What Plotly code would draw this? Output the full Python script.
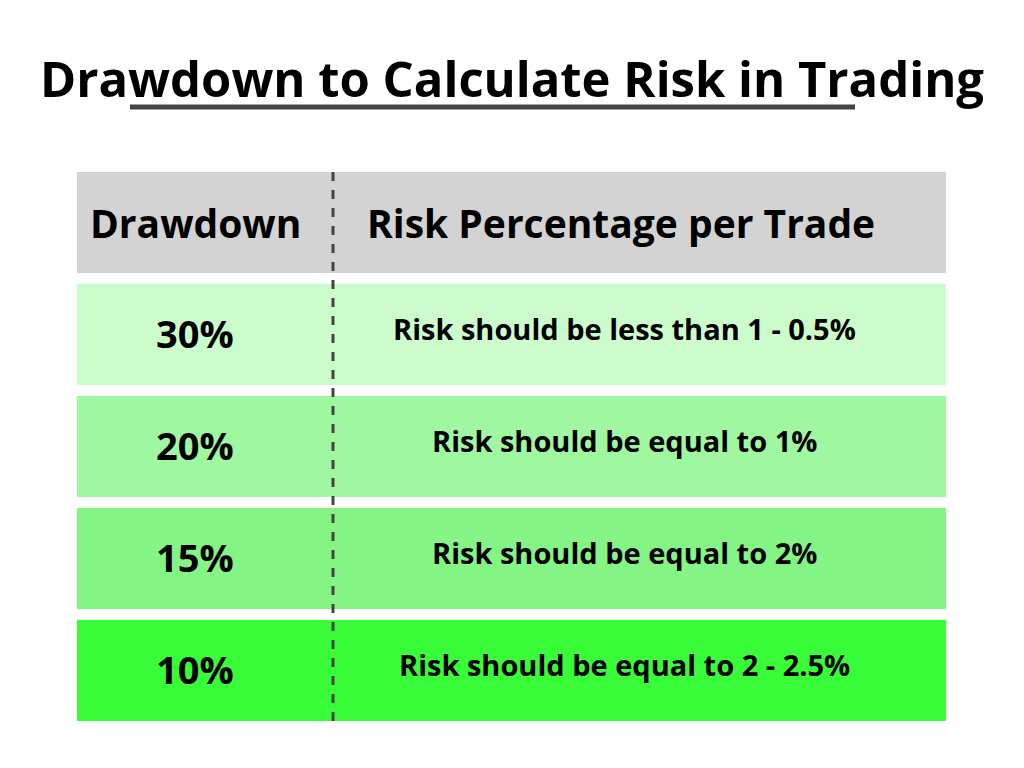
import plotly.graph_objects as go

title = 'Drawdown to Calculate Risk in Trading'
headers = ['Drawdown', 'Risk Percentage per Trade']
drawdowns = ['30%', '20%', '15%', '10%']
risks = ['Risk should be less than 1 - 0.5%',
         'Risk should be equal to 1%',
         'Risk should be equal to 2%',
         'Risk should be equal to 2 - 2.5%']

row_colors = ['#ccfccc', '#9ff79f', '#84f584', '#39fc39']
header_color = '#d3d3d3'
font = 'Open Sans'

fig = go.Figure()
# page body has an 8px margin, so shift the ranges to keep pixel coords
fig.update_layout(
    width=1024, height=768, margin=dict(l=0, r=0, t=0, b=0),
    plot_bgcolor='white', paper_bgcolor='white', showlegend=False,
    xaxis=dict(range=[8, 1032], visible=False, fixedrange=True),
    yaxis=dict(range=[776, 8], visible=False, fixedrange=True),
)

# title and underline
fig.add_annotation(x=512, y=78, text='<b>' + title + '</b>', showarrow=False,
                   font=dict(family=font, size=49, color='black'))
fig.add_shape(type='line', x0=130, x1=855, y0=107, y1=107,
              line=dict(color='#444444', width=5))

left, right, split = 77, 946, 333
top, row_h, gap = 172, 101, 11

# header
fig.add_shape(type='rect', x0=left, x1=right, y0=top, y1=top + row_h,
              fillcolor=header_color, line_width=0, layer='below')
fig.add_annotation(x=195, y=top + row_h / 2, text='<b>' + headers[0] + '</b>',
                   showarrow=False, font=dict(family=font, size=39, color='black'))
fig.add_annotation(x=621, y=top + row_h / 2, text='<b>' + headers[1] + '</b>',
                   showarrow=False, font=dict(family=font, size=39, color='black'))

for i, (dd, rk) in enumerate(zip(drawdowns, risks)):
    y0 = top + (i + 1) * (row_h + gap)
    fig.add_shape(type='rect', x0=left, x1=right, y0=y0, y1=y0 + row_h,
                  fillcolor=row_colors[i], line_width=0, layer='below')
    fig.add_annotation(x=195, y=y0 + row_h / 2 - 2, text='<b>' + dd + '</b>',
                       showarrow=False, font=dict(family=font, size=38, color='black'))
    fig.add_annotation(x=624, y=y0 + row_h / 2 - 6, text='<b>' + rk + '</b>',
                       showarrow=False, font=dict(family=font, size=29, color='black'))

bottom = top + 5 * row_h + 4 * gap
fig.add_shape(type='line', x0=split, x1=split, y0=top, y1=bottom,
              line=dict(color='#444444', width=3, dash='dash'))

fig.write_html('out.html')
